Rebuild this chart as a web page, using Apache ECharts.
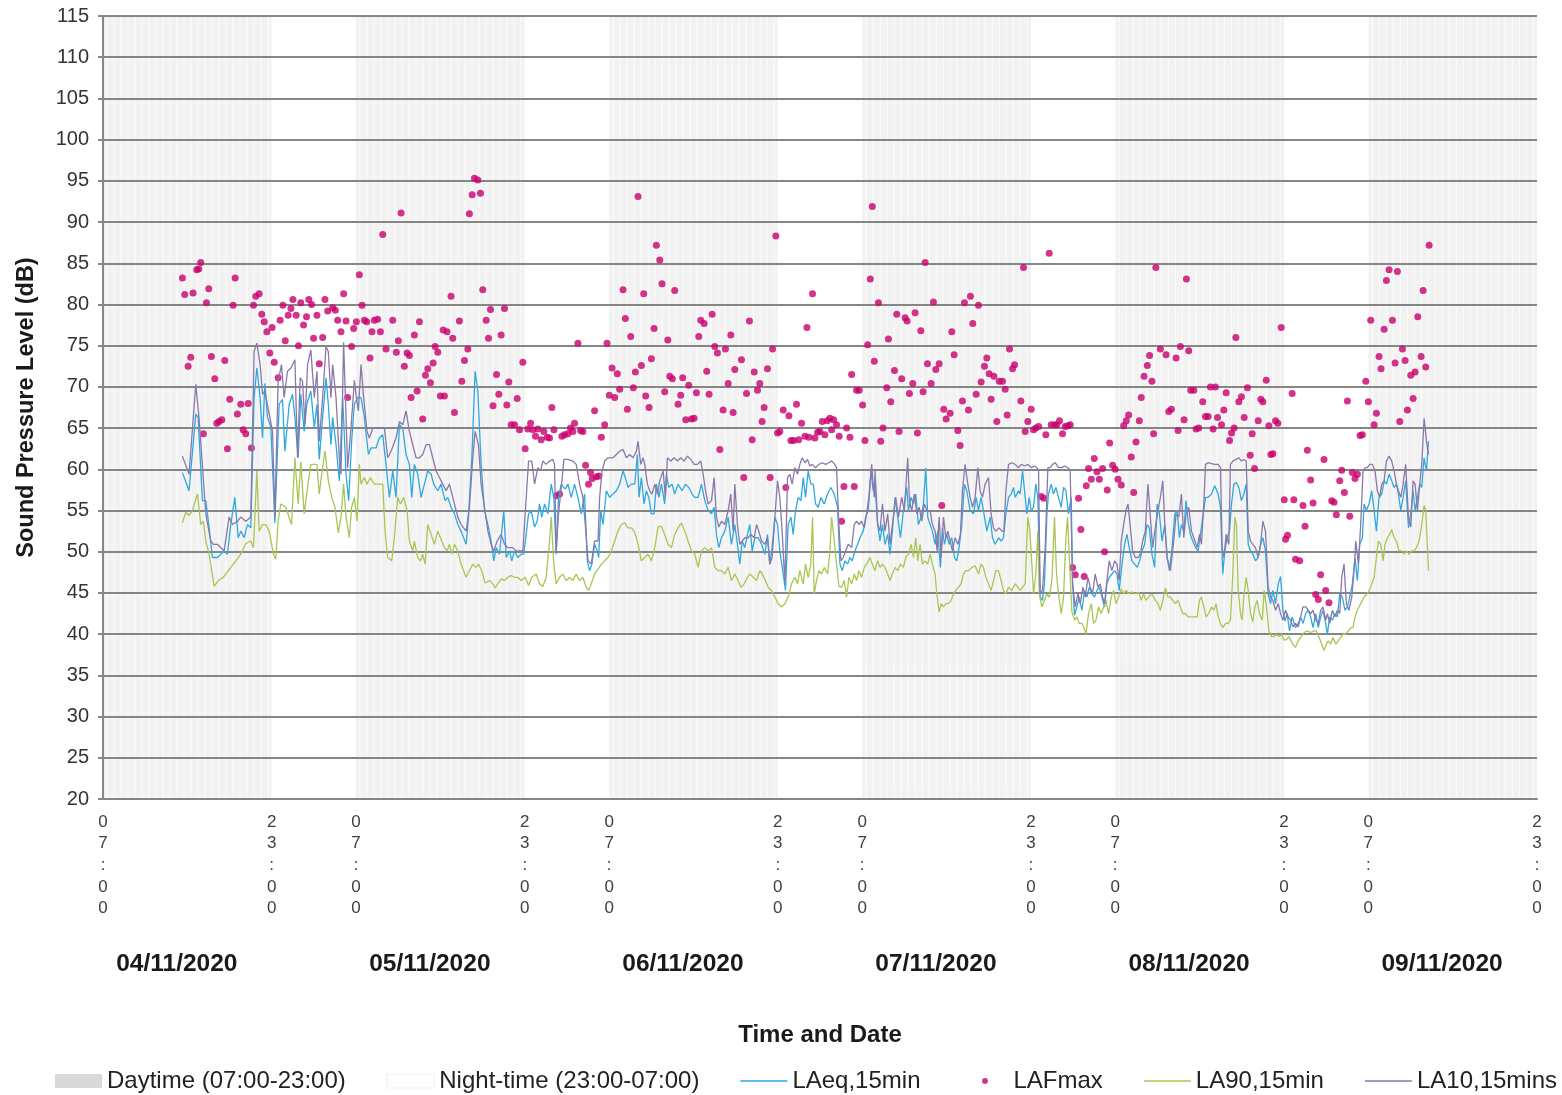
<!DOCTYPE html>
<html><head><meta charset="utf-8">
<script src="https://cdn.jsdelivr.net/npm/echarts@6/dist/echarts.min.js"></script>
<style>html,body{margin:0;padding:0;background:#fff}#c{width:1562px;height:1095px}</style>
</head><body><div id="c"></div>
<script>
// hours counted from 04/11/2020 07:00
const dayStart=[0,24,48,72,96,120];
const dayEnd=[16,40,64,88,112,136];
const nightStart=[16,40,64,88,112];
const nightEnd=[24,48,72,96,120];
const xTickHours=[0,16,24,40,48,64,72,88,96,112,120,136];
const xTickLabels=['07:00','23:00','07:00','23:00','07:00','23:00','07:00','23:00','07:00','23:00','07:00','23:00'];
const dateLabels=['04/11/2020','05/11/2020','06/11/2020','07/11/2020','08/11/2020','09/11/2020'];

const laeq=[[7.53,59.6],[8.16,57.4],[8.8,66.7],[9.02,66.3],[9.43,56.2],[9.75,56.2],[10.06,53.0],[10.38,49.3],[10.85,49.3],[11.49,50.1],[11.8,49.7],[12.12,53.3],[12.5,56.6],[12.82,51.7],[13.07,52.5],[13.39,51.7],[13.7,53.3],[14.02,52.9],[14.33,68.7],[14.59,72.3],[14.9,68.7],[15.13,63.8],[15.35,70.4],[15.6,66.3],[15.92,65.1],[16.3,53.5],[16.71,67.9],[17.02,68.5],[17.25,62.2],[17.66,67.9],[17.97,69.1],[18.2,66.3],[18.51,61.4],[18.76,69.1],[19.08,64.6],[19.33,67.9],[19.71,69.5],
[20.04,65.0],[20.29,67.9],[20.51,61.2],[20.83,66.3],[21.15,71.1],[21.37,67.9],[21.62,63.0],[21.78,66.3],[22.1,63.0],[22.41,58.6],[22.73,68.7],[23.05,59.4],[23.3,56.2],[23.58,63.4],[23.84,67.9],[24.15,68.7],[24.47,68.7],[24.79,66.3],[25.17,61.8],[25.42,62.6],[25.9,62.6],[26.21,63.8],[26.53,64.2],[26.84,60.6],[27.16,56.6],[27.48,59.8],[27.79,56.6],[28.11,65.4],[28.43,65.0],[28.74,61.8],[29.06,60.6],[29.28,56.6],[29.53,60.6],[29.85,59.4],[30.17,56.6],[30.48,58.2],[30.8,59.8],[31.12,59.4],[31.37,58.2],[31.75,57.4],[32.06,58.2],[32.44,56.2],[32.7,56.6],[33.01,55.4],[33.33,54.6],
[33.65,53.3],[33.96,52.5],[34.44,50.9],[34.66,54.2],[34.98,61.4],[35.29,71.9],[35.55,69.5],[35.86,60.6],[36.18,55.0],[36.5,53.3],[36.81,51.3],[37.06,48.9],[37.29,50.5],[37.6,49.7],[38.01,55.0],[38.24,49.3],[38.55,50.1],[38.77,48.9],[39.03,50.1],[39.34,49.3],[39.66,49.7],[39.91,49.7],[40.13,52.1],[40.36,54.6],[40.61,55.0],[40.93,53.0],[41.18,53.7],[41.4,55.8],[41.62,54.2],[41.88,55.8],[42.19,54.6],[42.51,58.2],[42.76,56.6],[42.98,49.7],[43.2,56.6],[43.46,58.2],[43.84,57.6],[44.09,58.2],[44.41,56.6],[44.72,58.2],[45.04,56.6],[45.36,54.6],[45.67,57.0],[45.93,48.9],[46.15,47.7],[46.37,48.5],[46.62,50.9],
[46.88,50.1],[47.01,49.3],[47.2,55.0],[47.42,53.3],[47.74,57.4],[48.05,56.6],[48.37,57.0],[48.69,57.4],[49.0,58.2],[49.32,59.8],[49.54,59.0],[49.79,57.8],[50.11,58.2],[50.43,58.2],[50.68,61.8],[50.84,56.6],[51.06,59.0],[51.31,55.8],[51.53,57.4],[51.76,56.6],[52.01,54.6],[52.26,54.6],[52.48,58.2],[52.71,56.6],[52.96,58.2],[53.27,55.8],[53.43,59.4],[53.66,57.8],[53.97,58.2],[54.22,57.0],[54.54,58.2],[54.92,57.4],[55.24,58.2],[55.55,57.8],[55.87,57.0],[56.12,56.6],[56.44,56.6],[56.76,58.2],[57.07,56.2],[57.39,55.0],[57.71,54.6],[57.96,55.4],[58.18,52.1],[58.4,50.5],[58.66,51.7],[58.97,52.5],[59.29,54.2],[59.6,50.9],[59.92,53.3],
[60.17,50.9],[60.39,48.5],[60.62,51.3],[60.87,50.5],[61.12,52.1],[61.34,53.3],[61.57,50.1],[61.82,51.7],[62.14,51.7],[62.45,50.9],[62.77,49.7],[63.02,52.1],[63.24,48.5],[63.46,50.5],[63.72,54.2],[63.97,53.3],[64.19,50.1],[64.51,47.3],[64.73,45.3],[64.98,53.3],[65.24,54.2],[65.46,52.1],[65.68,55.0],[65.93,56.6],[66.19,56.2],[66.41,59.0],[66.63,56.6],[66.88,59.8],[67.13,58.2],[67.36,58.2],[67.58,55.8],[67.83,55.4],[68.08,56.6],[68.4,55.8],[68.72,57.0],[69.03,57.8],[69.35,57.0],[69.67,55.4],[69.89,48.5],[70.11,47.7],[70.36,48.9],[70.62,48.5],[70.84,49.3],[71.06,48.9],[71.31,50.1],[71.57,50.9],[71.79,51.7],[72.1,52.5],[72.33,54.2],[72.58,55.0],[72.83,59.8],[73.05,57.4],
[73.22,58.2],[73.47,53.3],[73.69,51.3],[73.92,53.3],[74.17,50.9],[74.42,52.1],[74.64,49.7],[74.87,52.5],[75.12,56.6],[75.37,54.2],[75.63,51.7],[75.91,55.0],[76.23,57.8],[76.38,55.0],[76.64,56.6],[76.86,55.8],[77.08,57.0],[77.33,53.3],[77.59,54.2],[77.81,55.8],[78.03,60.2],[78.22,54.2],[78.44,53.3],[78.66,52.5],[78.92,50.9],[79.17,52.5],[79.42,48.1],[79.61,52.9],[79.8,50.9],[80.02,52.1],[80.25,50.9],[80.5,51.7],[80.75,49.3],[80.97,48.9],[81.19,50.5],[81.45,53.3],[81.7,58.2],[81.92,57.4],[82.24,55.0],[82.56,54.6],[82.81,56.6],[83.03,55.0],[83.28,56.6],[83.5,55.0],[83.82,52.5],[84.14,54.2],[84.36,51.7],[84.61,50.9],[84.93,51.7],[85.18,51.3],[85.4,51.7],[85.63,54.6],[85.88,56.6],[86.13,57.0],[86.35,57.8],
[86.51,56.6],[86.83,57.4],[86.98,57.0],[87.21,59.8],[87.4,57.4],[87.62,54.6],[87.84,56.6],[88.03,55.0],[88.25,55.4],[88.47,58.2],[88.66,56.6],[88.88,44.5],[89.1,44.1],[89.29,46.1],[89.52,54.6],[89.67,57.0],[89.93,58.2],[90.15,57.0],[90.37,57.8],[90.62,56.6],[90.88,55.4],[91.1,57.8],[91.32,57.4],[91.57,54.6],[91.83,56.6],[91.95,46.5],[92.14,42.3],[92.36,43.3],[92.59,44.5],[92.84,42.9],[93.09,45.3],[93.31,44.5],[93.54,45.7],[93.79,44.9],[94.04,44.5],[94.26,45.3],[94.48,45.7],[94.74,44.5],[94.99,43.3],[95.21,46.1],[95.43,46.9],[95.69,47.3],[95.94,47.7],[96.16,47.3],[96.38,45.3],[96.64,48.5],[96.89,50.9],[97.11,52.1],[97.33,50.5],[97.59,48.9],[97.84,48.5],[98.09,48.1],[98.31,48.9],[98.54,50.1],[98.79,50.9],[99.01,53.3],[99.23,52.9],[99.48,49.7],[99.74,48.1],
[99.97,55.8],[100.19,54.6],[100.44,51.3],[100.7,53.3],[100.92,49.3],[101.14,47.7],[101.39,50.5],[101.65,54.6],[101.87,55.0],[102.09,51.7],[102.28,53.3],[102.5,52.5],[102.72,56.2],[102.91,53.7],[103.13,52.1],[103.35,51.3],[103.61,50.5],[103.86,50.1],[104.08,52.1],[104.3,54.2],[104.56,56.6],[104.81,56.6],[105.13,57.0],[105.44,58.0],[105.76,57.0],[105.98,55.4],[106.2,47.3],[106.39,50.1],[106.61,51.7],[106.84,52.5],[107.03,55.8],[107.25,58.2],[107.47,58.4],[107.72,57.8],[107.97,56.2],[108.2,57.0],[108.42,58.2],[108.61,50.9],[108.83,50.1],[109.05,49.7],[109.3,48.9],[109.56,49.3],[109.78,50.9],[110.0,51.7],[110.25,50.1],[110.5,44.9],[110.73,43.7],[110.95,45.3],[111.2,43.7],[111.46,46.1],[111.68,47.0],[111.9,42.9],[112.09,41.6],[112.31,42.5],[112.53,40.4],[112.78,42.1],[113.1,40.8],
[113.36,41.3],[113.58,42.1],[113.81,41.3],[114.06,42.5],[114.31,42.9],[114.53,42.1],[114.76,40.8],[115.01,42.5],[115.26,40.8],[115.48,42.1],[115.7,42.9],[115.96,41.3],[116.12,40.0],[116.34,42.1],[116.59,41.7],[116.84,42.5],[117.07,42.1],[117.29,44.9],[117.54,44.5],[117.79,42.9],[118.02,43.3],[118.24,44.5],[118.49,46.1],[118.74,49.3],[118.96,46.5],[119.19,50.9],[119.44,51.7],[119.6,55.8],[119.82,55.0],[120.07,55.8],[120.33,57.4],[120.55,55.0],[120.77,52.5],[121.02,56.6],[121.27,57.0],[121.5,58.6],[121.72,58.2],[121.97,59.4],[122.22,58.6],[122.45,57.8],[122.67,58.2],[122.86,57.0],[123.08,55.0],[123.3,56.6],[123.55,58.6],[123.81,52.9],[124.03,54.6],[124.25,57.4],[124.44,55.0],[124.66,56.6],[124.88,58.2],[125.07,57.8],[125.29,61.4],[125.52,59.8],[125.71,63.4]];

const la10=[[7.53,61.6],[8.16,59.4],[8.8,70.3],[9.11,66.2],[9.75,54.6],[10.22,51.3],[10.47,50.9],[10.85,50.9],[11.49,50.1],[11.96,54.2],[12.28,53.3],[12.75,53.7],[13.07,54.2],[13.54,53.7],[14.02,54.2],[14.33,74.3],[14.59,75.3],[14.9,72.7],[15.13,69.1],[15.35,69.5],[15.76,66.7],[16.08,64.6],[16.3,54.2],[16.61,70.7],[16.93,72.7],[17.18,68.7],[17.5,71.9],[17.82,72.3],[18.2,73.3],[18.45,61.4],[18.7,71.1],[18.92,70.7],[19.15,65.5],[19.4,72.7],[19.71,74.5],
[20.04,68.7],[20.29,71.9],[20.51,63.4],[20.83,68.7],[21.15,74.9],[21.37,74.3],[21.62,68.7],[21.78,72.7],[22.1,68.7],[22.41,61.4],[22.57,59.4],[22.82,75.4],[23.05,66.3],[23.2,60.2],[23.52,65.0],[23.84,70.8],[23.99,69.1],[24.22,67.1],[24.47,72.7],[24.72,68.7],[25.04,64.6],[25.26,63.8],[25.58,65.0],[26.05,65.0],[26.37,65.0],[26.69,65.0],[27.0,61.4],[27.32,62.2],[27.79,63.8],[28.11,65.8],[28.43,65.4],[28.74,67.1],[29.06,64.6],[29.37,63.0],[29.69,61.4],[30.0,61.4],[30.32,61.8],[30.64,63.0],[30.96,63.0],[31.27,61.4],[31.59,59.8],[31.91,59.0],[32.22,58.2],[32.54,57.4],[32.86,58.2],[33.17,56.6],
[33.33,56.6],[33.65,54.2],[33.96,53.3],[34.44,52.5],[34.75,55.4],[35.07,61.4],[35.29,64.6],[35.61,63.0],[35.86,58.2],[36.18,55.4],[36.5,52.5],[36.81,50.9],[37.06,50.1],[37.38,51.3],[37.76,52.1],[38.08,50.9],[38.39,50.5],[38.87,50.5],[39.18,50.1],[39.5,50.1],[39.82,50.1],[40.04,54.6],[40.36,61.0],[40.67,61.0],[40.93,58.2],[41.24,60.2],[41.49,59.8],[41.72,61.0],[42.03,60.6],[42.35,61.0],[42.67,61.2],[42.82,60.6],[42.98,50.1],[43.2,54.6],[43.46,57.8],[43.71,61.2],[44.09,61.2],[44.56,61.0],[44.88,60.6],[45.2,58.2],[45.51,56.6],[45.74,53.3],[46.0,48.9],[46.31,48.5],[46.62,51.3],
[46.95,51.3],[47.1,56.6],[47.33,59.8],[47.58,61.0],[47.9,61.4],[48.37,61.4],[48.69,61.8],[49.0,62.2],[49.32,62.4],[49.64,61.4],[49.95,61.8],[50.27,61.4],[50.59,62.2],[50.74,63.4],[51.0,60.6],[51.22,61.4],[51.38,60.6],[51.63,58.2],[51.85,57.4],[52.07,57.0],[52.33,58.2],[52.58,57.0],[52.8,58.6],[53.12,59.8],[53.34,56.6],[53.53,61.4],[53.85,61.0],[54.16,61.4],[54.48,61.0],[54.79,61.4],[55.11,61.0],[55.43,61.6],[55.74,61.2],[56.06,60.6],[56.38,60.6],[56.69,61.0],[56.92,59.4],[57.14,57.4],[57.39,55.8],[57.71,56.2],[57.96,59.0],[58.18,54.2],[58.4,53.0],[58.66,53.7],[58.97,53.3],[59.29,55.0],[59.54,57.0],[59.76,52.5],
[59.92,58.2],[60.17,53.3],[60.39,50.9],[60.62,51.3],[60.87,51.7],[61.19,51.7],[61.44,52.1],[61.76,51.7],[61.98,53.3],[62.2,52.5],[62.45,51.3],[62.77,50.9],[63.02,51.7],[63.24,48.5],[63.46,49.3],[63.72,54.2],[63.97,58.6],[64.19,56.6],[64.41,52.5],[64.67,46.1],[64.92,59.0],[65.14,59.4],[65.36,58.2],[65.62,60.2],[65.87,59.4],[66.09,60.6],[66.31,61.4],[66.57,60.8],[66.82,61.2],[67.04,60.4],[67.26,60.6],[67.58,60.2],[67.89,60.6],[68.21,60.8],[68.53,60.6],[68.84,60.8],[69.1,61.0],[69.41,60.6],[69.57,60.2],[69.79,53.3],[69.98,48.9],[70.2,49.3],[70.43,50.1],[70.68,50.9],[71.0,50.5],[71.25,53.3],[71.47,53.7],[71.69,53.3],[71.94,53.7],[72.2,52.9],[72.42,54.6],[72.64,56.6],[72.9,60.6],[73.15,56.6],
[73.22,59.8],[73.47,53.3],[73.69,52.5],[73.92,55.8],[74.17,52.5],[74.42,54.6],[74.64,50.9],[74.87,53.3],[75.18,56.6],[75.44,54.2],[75.75,56.6],[76.0,55.0],[76.32,61.4],[76.48,56.2],[76.7,55.0],[76.95,57.0],[77.18,54.6],[77.4,55.4],[77.65,53.7],[77.9,55.8],[78.16,55.0],[78.44,55.0],[78.66,53.3],[78.92,52.5],[79.11,50.1],[79.3,54.2],[79.49,49.3],[79.71,54.2],[79.93,51.7],[80.12,52.5],[80.34,51.3],[80.56,50.1],[80.81,51.7],[81.07,50.9],[81.32,52.1],[81.51,57.4],[81.76,60.6],[82.02,58.2],[82.24,56.6],[82.46,55.4],[82.71,56.6],[82.97,60.2],[83.19,57.4],[83.41,56.6],[83.66,58.2],[83.98,59.0],[84.23,54.6],[84.45,52.9],[84.68,52.5],[84.99,52.9],[85.25,52.5],[85.44,52.5],[85.63,57.4],[85.88,60.6],[86.2,60.8],[86.51,60.6],
[86.83,60.2],[87.08,60.6],[87.4,60.4],[87.71,60.6],[88.03,60.2],[88.35,60.4],[88.57,60.2],[88.73,59.8],[88.88,44.9],[89.1,45.3],[89.36,50.5],[89.61,60.2],[89.83,60.2],[90.05,60.6],[90.31,60.8],[90.62,60.2],[90.94,60.2],[91.19,60.4],[91.51,60.2],[91.73,59.8],[91.95,46.1],[92.21,43.3],[92.46,44.9],[92.68,43.7],[92.93,45.7],[93.16,44.5],[93.41,46.9],[93.63,45.7],[93.85,44.9],[94.1,47.3],[94.36,45.7],[94.58,46.1],[94.8,44.5],[94.99,43.7],[95.21,46.5],[95.43,48.9],[95.69,47.7],[95.94,48.9],[96.16,48.5],[96.38,46.5],[96.57,51.3],[96.8,53.3],[97.02,55.0],[97.21,55.8],[97.43,53.0],[97.65,50.1],[97.9,49.3],[98.16,49.3],[98.38,49.7],[98.6,51.3],[98.85,52.5],[99.1,58.2],[99.33,54.2],[99.55,50.5],[99.81,53.0],
[100.06,55.0],[100.28,56.6],[100.51,58.6],[100.7,53.3],[100.92,49.3],[101.23,47.7],[101.55,51.3],[101.77,54.6],[102.03,54.2],[102.28,57.0],[102.5,51.7],[102.72,54.6],[102.97,55.4],[103.23,52.5],[103.45,51.7],[103.77,50.5],[103.99,52.1],[104.18,50.9],[104.4,55.8],[104.56,60.6],[104.81,60.8],[105.13,60.7],[105.44,60.6],[105.76,60.6],[105.98,60.2],[106.14,50.5],[106.3,49.3],[106.52,52.1],[106.77,50.9],[106.93,60.6],[107.15,61.0],[107.47,61.2],[107.72,61.4],[107.97,61.0],[108.2,61.2],[108.42,61.0],[108.61,52.5],[108.83,51.3],[109.05,50.9],[109.3,50.5],[109.56,49.3],[109.78,50.9],[110.0,53.7],[110.25,52.5],[110.5,45.7],[110.73,44.5],[110.95,44.1],[111.2,42.9],[111.46,43.7],[111.68,42.5],[111.9,41.7],[112.15,42.9],[112.4,42.1],[112.63,41.7],[112.85,40.9],[113.1,41.3],
[113.36,40.9],[113.58,42.1],[113.81,43.3],[114.06,43.3],[114.31,42.9],[114.53,42.5],[114.76,42.9],[115.01,41.7],[115.26,41.3],[115.48,42.9],[115.7,43.3],[115.96,41.7],[116.12,42.5],[116.34,41.3],[116.59,42.9],[116.84,42.1],[117.07,42.9],[117.29,42.5],[117.48,46.9],[117.7,48.5],[117.92,43.7],[118.17,42.9],[118.43,44.5],[118.65,47.7],[118.81,51.3],[119.06,48.5],[119.28,53.3],[119.5,59.8],[119.69,60.2],[119.91,60.2],[120.14,60.6],[120.39,60.6],[120.64,59.8],[120.86,57.4],[121.08,56.6],[121.27,58.2],[121.5,58.6],[121.72,61.0],[121.97,61.6],[122.22,61.0],[122.45,59.8],[122.67,58.2],[122.86,57.4],[123.08,56.6],[123.3,58.2],[123.55,60.6],[123.81,54.2],[124.03,53.0],[124.25,58.6],[124.44,58.2],[124.66,55.0],[124.88,58.2],[125.07,60.6],[125.29,66.2],[125.52,63.4],[125.71,61.8]];

const la90=[[7.53,53.5],[7.85,54.8],[8.16,54.4],[8.48,55.0],[8.96,57.0],[9.27,53.3],[9.52,53.7],[9.75,51.3],[10.06,49.7],[10.54,45.8],[11.01,46.6],[11.33,46.8],[11.65,47.3],[12.12,48.1],[12.6,48.9],[13.07,49.7],[13.54,51.0],[14.02,51.3],[14.27,50.5],[14.59,59.8],[14.81,52.5],[15.13,53.3],[15.44,53.3],[15.76,52.5],[16.17,49.7],[16.39,49.1],[16.61,53.8],[16.87,55.8],[17.34,55.4],[17.88,53.3],[18.2,61.4],[18.51,55.8],[18.76,60.9],[19.08,54.6],[19.4,57.8],[19.71,60.6],[20.03,60.6],
[20.29,60.6],[20.51,57.0],[20.74,59.4],[21.05,62.2],[21.37,58.6],[21.69,56.6],[22.0,55.4],[22.32,52.3],[22.57,54.2],[22.82,58.2],[23.05,54.2],[23.36,51.7],[23.58,55.4],[23.84,56.6],[24.09,53.7],[24.31,60.6],[24.47,58.2],[24.79,59.0],[25.04,58.2],[25.36,59.0],[25.74,58.2],[26.21,58.2],[26.53,58.2],[26.75,52.5],[27.0,49.3],[27.38,48.9],[27.63,51.7],[27.95,56.6],[28.2,55.8],[28.52,56.6],[28.84,55.0],[29.06,51.3],[29.38,50.1],[29.53,51.3],[29.85,49.3],[30.1,48.9],[30.32,49.7],[30.55,48.5],[30.8,53.3],[31.12,52.1],[31.43,50.9],[31.75,52.5],[32.0,51.7],[32.38,50.5],[32.63,50.1],[32.86,50.9],[33.08,49.7],[33.33,50.9],
[33.65,50.1],[33.96,48.5],[34.44,46.9],[34.75,47.7],[35.07,48.5],[35.39,48.1],[35.61,48.5],[35.92,47.7],[36.24,46.2],[36.65,46.5],[36.97,46.1],[37.19,45.6],[37.44,46.1],[37.76,46.7],[38.08,46.5],[38.39,46.9],[38.71,47.1],[39.03,46.9],[39.34,46.9],[39.66,46.5],[40.04,46.9],[40.36,45.9],[40.67,46.9],[41.08,47.3],[41.4,46.1],[41.72,45.8],[42.03,46.9],[42.35,51.3],[42.51,54.2],[42.76,48.5],[42.98,46.1],[43.3,46.9],[43.62,47.3],[43.93,46.5],[44.25,46.9],[44.56,46.5],[44.88,47.3],[45.2,46.5],[45.51,46.9],[45.83,45.7],[46.05,45.3],[46.3,46.1],[46.62,47.3],
[46.95,47.9],[47.26,48.5],[47.58,48.9],[47.9,49.3],[48.21,50.1],[48.53,51.3],[48.84,52.5],[49.16,53.3],[49.48,53.5],[49.79,52.9],[50.11,52.9],[50.36,52.5],[50.59,51.7],[50.81,50.5],[51.06,48.9],[51.38,49.3],[51.69,49.7],[52.01,48.9],[52.33,50.5],[52.64,53.0],[52.96,53.1],[53.27,52.1],[53.59,50.9],[53.91,50.5],[54.22,52.1],[54.54,52.9],[54.86,53.5],[55.17,52.5],[55.49,51.3],[55.81,50.1],[56.12,49.7],[56.44,48.1],[56.76,50.1],[57.07,50.5],[57.39,50.1],[57.71,50.5],[58.02,48.1],[58.34,47.7],[58.66,47.7],[58.97,47.3],[59.29,48.1],[59.6,46.5],[59.92,47.3],
[60.24,46.5],[60.49,45.7],[60.81,46.1],[61.12,46.9],[61.34,47.3],[61.66,46.9],[61.98,46.5],[62.29,47.7],[62.51,47.3],[62.83,46.5],[63.08,45.7],[63.4,45.3],[63.72,44.5],[64.03,43.7],[64.35,43.3],[64.67,43.7],[64.98,44.5],[65.3,46.1],[65.62,46.9],[65.87,46.1],[66.09,47.7],[66.41,46.1],[66.63,48.5],[66.88,46.9],[67.13,48.5],[67.29,54.2],[67.45,44.9],[67.67,46.5],[67.89,47.7],[68.15,47.3],[68.4,48.1],[68.72,47.3],[68.94,50.1],[69.1,54.2],[69.32,51.7],[69.57,48.5],[69.79,45.8],[70.05,45.7],[70.3,46.5],[70.52,44.5],[70.74,46.9],[71.0,46.1],[71.25,47.3],[71.47,46.5],[71.69,47.7],[71.94,46.9],[72.2,48.1],[72.42,48.5],[72.74,49.3],[72.96,48.5],[73.21,47.7],
[73.47,48.9],[73.69,48.1],[73.92,48.5],[74.17,48.1],[74.42,47.3],[74.64,46.5],[74.87,47.3],[75.12,48.1],[75.37,47.7],[75.63,48.5],[75.91,48.1],[76.13,49.3],[76.38,49.7],[76.64,50.9],[76.86,49.3],[77.08,51.7],[77.27,48.9],[77.49,50.9],[77.71,48.5],[77.97,48.9],[78.22,48.5],[78.44,49.7],[78.66,48.5],[78.92,47.3],[79.07,44.9],[79.3,42.7],[79.49,43.7],[79.71,43.3],[79.93,43.7],[80.18,43.7],[80.44,44.1],[80.66,44.9],[80.88,45.3],[81.13,45.7],[81.38,46.1],[81.61,47.3],[81.83,47.7],[82.08,47.7],[82.4,48.1],[82.71,48.3],[83.03,47.3],[83.28,48.5],[83.5,48.1],[83.73,46.9],[83.98,46.1],[84.23,45.3],[84.45,46.5],[84.68,47.7],[84.93,47.7],[85.18,46.5],[85.4,45.3],[85.62,44.9],[85.88,45.7],[86.2,45.3],[86.51,46.1],
[86.76,45.7],[86.98,45.3],[87.21,45.7],[87.46,46.1],[87.71,54.2],[87.9,52.5],[88.09,48.5],[88.25,44.9],[88.47,47.3],[88.66,52.5],[88.79,44.9],[89.04,43.3],[89.29,44.1],[89.52,44.9],[89.74,44.5],[89.99,46.5],[90.24,54.2],[90.43,47.3],[90.62,44.9],[90.88,42.5],[91.1,44.5],[91.32,51.7],[91.48,54.2],[91.67,48.5],[91.89,42.7],[92.14,41.7],[92.36,42.1],[92.59,41.3],[92.84,41.3],[93.03,40.8],[93.22,40.0],[93.47,42.5],[93.73,43.7],[93.95,41.3],[94.17,41.7],[94.42,43.3],[94.67,42.5],[94.9,43.3],[95.12,44.1],[95.37,42.5],[95.62,44.5],[95.85,45.3],[96.07,43.7],[96.32,44.5],[96.57,45.5],[96.8,44.9],[97.02,45.3],[97.27,44.9],[97.59,45.1],[97.9,44.9],[98.22,45.1],[98.47,44.1],[98.69,44.9],[98.91,44.1],[99.17,44.5],[99.48,44.9],[99.8,44.1],
[100.06,43.7],[100.28,42.9],[100.51,44.1],[100.76,45.6],[101.01,44.5],[101.23,44.5],[101.46,44.1],[101.71,43.7],[101.96,44.1],[102.18,43.3],[102.4,42.5],[102.66,42.5],[102.91,42.1],[103.23,42.1],[103.54,42.1],[103.77,42.1],[103.99,44.1],[104.18,44.5],[104.4,43.3],[104.62,42.1],[104.87,42.5],[105.13,43.3],[105.35,42.9],[105.57,43.7],[105.76,42.1],[105.98,41.3],[106.2,40.8],[106.46,41.3],[106.71,41.3],[106.93,41.7],[107.15,47.3],[107.34,54.2],[107.5,53.3],[107.66,45.3],[107.88,42.5],[108.04,41.7],[108.2,44.5],[108.42,46.9],[108.61,45.3],[108.83,42.5],[109.05,41.5],[109.24,43.3],[109.46,44.1],[109.68,42.5],[109.94,41.7],[110.13,45.3],[110.35,43.3],[110.57,40.4],[110.82,39.7],[111.04,39.7],[111.27,40.0],[111.52,39.7],[111.77,40.0],[112.0,39.3],[112.22,39.3],[112.47,39.7],[112.78,38.9],[113.1,38.4],
[113.36,39.2],[113.58,39.6],[113.9,40.2],[114.22,40.4],[114.53,40.2],[114.85,40.4],[115.07,40.4],[115.33,39.6],[115.58,38.8],[115.8,38.0],[116.02,38.8],[116.21,39.2],[116.43,38.8],[116.65,39.6],[116.91,38.8],[117.16,39.2],[117.38,39.6],[117.6,40.0],[117.86,40.0],[118.11,40.4],[118.33,40.8],[118.55,40.8],[118.74,42.1],[118.96,42.9],[119.28,43.7],[119.6,44.5],[119.91,44.9],[120.23,45.7],[120.55,46.9],[120.77,49.3],[120.96,51.3],[121.18,50.9],[121.4,48.9],[121.59,50.9],[121.81,51.7],[122.03,52.1],[122.22,52.7],[122.45,51.7],[122.67,51.3],[122.92,50.1],[123.17,50.1],[123.39,49.7],[123.62,50.1],[123.87,49.7],[124.12,50.1],[124.34,50.1],[124.57,50.5],[124.82,51.3],[125.07,53.3],[125.29,55.6],[125.45,55.0],[125.71,47.7]];

const lafmax=[[7.53,83.2],[7.75,81.2],[8.07,72.5],[8.32,73.6],[8.54,81.4],[8.89,84.2],[9.08,84.3],[9.27,85.1],[9.52,64.3],[9.81,80.2],[10.03,81.9],[10.28,73.7],[10.6,71.0],[10.79,65.6],[11.01,65.8],[11.27,66.0],[11.55,73.2],[11.8,62.5],[12.02,68.5],[12.34,79.9],[12.53,83.2],[12.75,66.7],[13.07,67.9],[13.29,64.8],[13.54,64.3],[13.77,68.0],[14.08,62.6],[14.27,79.9],[14.49,81.0],[14.81,81.3],[15.06,78.8],[15.29,77.9],[15.54,76.7],[15.82,74.1],[16.04,77.2],[16.24,73.0],[16.61,71.1],[16.8,78.1],[17.06,79.9],[17.28,75.6],[17.56,78.7],[17.82,79.5],[18.01,80.6],[18.32,78.7],[18.54,75.0],[18.76,80.2],[19.02,77.5],[19.3,78.5],[19.52,80.6],[19.78,80.0],[19.97,75.9],
[20.29,78.7],[20.51,72.8],[20.83,76.0],[21.05,80.6],[21.31,79.2],[21.78,79.6],[22.03,79.3],[22.26,78.1],[22.57,76.7],[22.82,81.3],[23.05,78.0],[23.2,68.7],[23.58,74.9],[23.77,77.1],[24.03,77.9],[24.31,83.6],[24.57,79.9],[24.79,78.1],[25.01,77.9],[25.32,73.5],[25.51,76.7],[25.74,78.1],[26.05,78.2],[26.31,76.7],[26.53,88.5],[26.84,74.6],[27.48,78.1],[27.82,74.2],[28.01,75.6],[28.27,91.1],[28.58,72.5],[28.84,74.1],[29.06,73.8],[29.22,68.7],[29.53,76.3],[29.79,69.5],[30.01,77.9],[30.32,66.1],[30.58,71.4],[30.8,72.2],[31.05,70.5],[31.31,72.9],[31.5,74.9],[31.75,74.2],[32.0,68.9],[32.26,76.9],[32.38,68.9],[32.63,76.7],[33.01,81.0],[33.17,75.9],[33.33,66.9],
[33.8,78.0],[34.03,70.7],[34.28,73.2],[34.6,74.6],[34.75,91.0],[35.01,93.3],[35.23,95.3],[35.55,95.1],[35.8,93.5],[36.02,81.8],[36.34,78.1],[36.56,75.9],[36.75,79.4],[36.99,67.7],[37.32,71.5],[37.54,69.1],[37.76,76.3],[38.08,79.5],[38.3,67.8],[38.49,70.6],[38.71,65.4],[39.03,65.4],[39.28,68.6],[39.5,64.8],[39.82,73.0],[40.04,62.5],[40.29,64.9],[40.55,65.6],[40.77,64.8],[41.02,64.0],[41.24,64.9],[41.56,63.6],[41.81,64.6],[42.13,63.9],[42.35,63.8],[42.57,67.5],[42.76,64.8],[42.98,56.8],[43.3,57.0],[43.52,64.0],[43.77,64.2],[44.09,64.3],[44.34,65.0],[44.56,64.6],[44.72,65.6],[45.04,75.3],[45.29,64.7],[45.51,64.6],[45.77,60.5],[46.05,58.2],[46.24,59.6],[46.4,58.9],[46.62,67.1],
[46.79,59.1],[47.04,59.2],[47.26,63.9],[47.58,65.4],[47.8,75.3],[48.02,69.0],[48.28,72.3],[48.53,68.7],[48.78,71.6],[49.0,69.7],[49.32,81.8],[49.54,78.3],[49.73,67.3],[50.05,76.1],[50.3,69.9],[50.49,71.8],[50.74,93.1],[51.06,72.6],[51.28,81.3],[51.47,68.9],[51.79,67.5],[52.01,73.4],[52.26,77.1],[52.48,87.2],[52.8,85.4],[53.02,82.5],[53.27,69.4],[53.56,75.7],[53.75,71.3],[54.0,71.0],[54.22,81.7],[54.54,67.9],[54.79,69.0],[54.98,71.1],[55.27,66.0],[55.55,70.2],[55.81,66.1],[56.06,66.2],[56.28,69.3],[56.5,76.1],[56.69,78.1],[57.01,77.7],[57.26,71.9],[57.48,69.1],[57.77,78.8],[58.02,74.9],[58.27,74.1],[58.5,62.4],[58.81,67.2],[59.03,74.6],[59.29,70.4],[59.54,76.3],[59.76,66.9],[59.92,72.1],
[60.55,73.3],[60.77,59.0],[61.03,69.2],[61.31,78.0],[61.57,63.6],[61.76,71.8],[62.07,69.6],[62.29,70.4],[62.51,65.8],[62.7,67.5],[63.02,72.2],[63.27,59.0],[63.5,74.6],[63.81,88.3],[63.97,64.4],[64.19,64.6],[64.51,67.2],[64.76,57.8],[65.05,66.5],[65.24,63.5],[65.49,63.5],[65.77,67.9],[65.98,63.6],[66.25,65.6],[66.57,64.0],[66.76,77.2],[66.95,63.9],[67.29,81.3],[67.51,63.8],[67.77,64.5],[67.99,64.6],[68.21,65.8],[68.46,64.2],[68.69,65.9],[68.94,66.2],[69.1,64.8],[69.29,66.0],[69.57,65.4],[69.82,64.0],[70.05,53.7],[70.27,57.9],[70.52,65.0],[70.84,63.9],[71.0,71.5],[71.25,57.9],[71.47,69.6],[71.72,69.6],[72.04,67.8],[72.26,63.5],[72.52,75.1],[72.77,83.1],[72.96,91.9],[73.15,73.1],
[73.54,80.2],[73.76,63.4],[73.98,65.0],[74.33,69.9],[74.49,75.8],[74.71,68.2],[75.06,72.0],[75.28,78.8],[75.5,64.6],[75.75,71.0],[76.07,78.4],[76.26,78.0],[76.48,69.2],[76.8,70.4],[77.02,79.0],[77.24,64.4],[77.56,76.8],[77.78,69.4],[77.97,85.1],[78.19,72.8],[78.54,70.4],[78.76,80.3],[78.98,72.1],[79.3,72.8],[79.55,55.6],[79.74,67.3],[79.96,66.1],[80.34,66.8],[80.5,76.7],[80.72,73.9],[81.07,64.7],[81.29,62.9],[81.51,68.3],[81.7,80.2],[82.08,67.2],[82.27,81.0],[82.49,77.7],[82.81,69.1],[83.03,79.9],[83.28,70.6],[83.6,72.5],[83.82,73.5],[84.04,71.6],[84.23,68.5],[84.49,71.3],[84.77,65.8],[85.0,70.7],[85.31,70.7],[85.56,69.7],[85.75,66.6],[85.97,74.6],[86.26,72.2],[86.45,72.7],
[87.05,68.3],[87.3,84.5],[87.46,64.6],[87.71,65.8],[88.03,67.3],[88.25,64.8],[88.47,65.0],[88.73,65.2],[88.98,56.7],[89.23,56.5],[89.42,64.2],[89.74,86.2],[89.93,65.4],[90.24,65.4],[90.47,65.4],[90.72,65.9],[91.0,64.3],[91.26,65.2],[91.51,65.3],[91.73,65.4],[91.95,48.1],[92.21,47.2],[92.52,56.5],[92.74,52.7],[93.06,47.0],[93.25,58.0],[93.47,60.1],[93.73,58.8],[94.01,61.3],[94.26,59.7],[94.49,58.8],[94.8,60.1],[94.99,50.0],[95.24,57.5],[95.47,63.2],[95.75,60.5],[96.0,60.0],[96.26,58.8],[96.57,58.1],[96.8,65.3],[97.05,65.9],[97.27,66.6],[97.52,61.5],[97.75,57.2],[97.97,63.3],[98.28,65.9],[98.47,68.7],[98.73,71.3],[99.04,72.6],[99.26,73.8],[99.48,70.7],[99.64,64.3],[99.85,84.5],
[100.28,74.6],[100.82,73.9],[101.08,67.0],[101.33,67.3],[101.77,73.5],[101.96,64.7],[102.18,74.9],[102.53,66.0],[102.75,83.1],[102.97,74.4],[103.16,69.6],[103.45,69.6],[103.67,64.9],[103.92,65.0],[104.3,68.2],[104.56,66.4],[104.81,66.4],[105.03,70.0],[105.28,64.9],[105.5,70.0],[105.7,66.3],[106.08,65.4],[106.3,67.2],[106.52,69.3],[106.84,63.5],[107.03,64.4],[107.28,65.0],[107.44,76.0],[107.72,68.2],[107.97,68.8],[108.23,66.3],[108.54,69.9],[108.8,61.7],[108.99,64.3],[109.21,60.1],[109.56,65.9],[109.81,68.5],[110.0,68.2],[110.32,70.8],[110.57,65.3],[110.76,61.8],[110.95,61.9],[111.2,65.9],[111.42,65.6],[111.74,77.2],[112.03,56.3],[112.15,51.5],[112.34,52.0],[112.78,69.2],[112.94,56.3],[113.1,49.1],
[113.49,48.9],[113.81,55.6],[114.0,53.1],[114.22,62.3],[114.53,58.7],[114.76,55.9],[115.01,44.8],[115.26,44.2],[115.48,47.2],[115.8,61.2],[115.96,45.3],[116.27,43.8],[116.53,56.2],[116.75,56.0],[116.97,54.5],[117.29,58.6],[117.48,59.9],[117.73,57.2],[118.02,68.3],[118.24,54.3],[118.49,59.6],[118.74,58.9],[118.96,59.4],[119.22,64.1],[119.44,64.2],[119.76,70.7],[120.01,68.2],[120.23,78.1],[120.55,65.4],[120.77,66.8],[121.02,73.7],[121.21,72.2],[121.5,77.0],[121.72,82.9],[121.97,84.2],[122.29,78.1],[122.54,72.9],[122.76,84.0],[122.98,65.8],[123.24,74.6],[123.49,73.2],[123.71,67.2],[124.03,71.4],[124.25,68.6],[124.44,71.8],[124.69,78.5],[125.01,73.7],[125.2,81.7],[125.45,72.4],[125.77,87.2]];

const FONT='"Liberation Sans", Arial, sans-serif';
const GRIDC='#868686';
const LINE_ICON='path://M0,0L47,0L47,1.6L0,1.6Z';
const DOT_ICON='path://M0,0M48,14M21,7a3,3 0 1,0 6,0a3,3 0 1,0 -6,0Z';

function bandRenderer(fill, stripes){
  return function(params, api){
    const p0=api.coord([api.value(0),115]);
    const p1=api.coord([api.value(1),20]);
    const x0=p0[0],x1=p1[0],y0=p0[1],y1=p1[1];
    const children=[{type:'rect',shape:{x:x0,y:y0,width:x1-x0,height:y1-y0},style:{fill:fill}}];
    if(stripes){
      for(let x=x0+4;x<x1-2;x+=7){
        children.push({type:'line',shape:{x1:x,y1:y0,x2:x,y2:y1},style:{stroke:'rgba(255,255,255,0.8)',lineWidth:1}});
      }
    }
    return {type:'group',children:children};
  };
}

const chart=echarts.init(document.getElementById('c'),null,{renderer:'canvas'});
chart.setOption({
  animation:false,
  backgroundColor:'#ffffff',
  textStyle:{fontFamily:FONT},
  grid:{left:103,right:25,top:16,bottom:296,containLabel:false},
  legend:{
    left:55, top:1069, width:1550, padding:0, itemWidth:47, itemHeight:14, itemGap:41,
    textStyle:{fontSize:24,color:'#222',fontFamily:FONT},
    data:[
      {name:'Daytime (07:00-23:00)',icon:'rect',itemStyle:{color:'#d9d9d9'}},
      {name:'Night-time (23:00-07:00)',icon:'rect',itemStyle:{color:'#ffffff',borderColor:'#f0f0f0',borderWidth:1}},
      {name:'LAeq,15min',icon:LINE_ICON},
      {name:'LAFmax',icon:DOT_ICON},
      {name:'LA90,15min',icon:LINE_ICON},
      {name:'LA10,15mins',icon:LINE_ICON}
    ]
  },
  xAxis:[{
    type:'value', min:0, max:136, z:1,
    axisLine:{show:true,lineStyle:{color:GRIDC,width:2}},
    axisTick:{show:false},
    splitLine:{show:false},
    axisLabel:{
      customValues:xTickHours, showMinLabel:true, showMaxLabel:true,
      fontSize:17, lineHeight:21.7, color:'#404040', margin:12, fontFamily:FONT,
      formatter:function(v){const i=xTickHours.indexOf(v);return (i>=0?xTickLabels[i]:'').split('').join('\n');}
    },
    name:'Time and Date', nameLocation:'middle', nameGap:224,
    nameTextStyle:{fontSize:24,fontWeight:'bold',color:'#1a1a1a',fontFamily:FONT}
  },{
    type:'value', min:0, max:136, position:'bottom', z:1,
    axisLine:{show:false}, axisTick:{show:false}, splitLine:{show:false},
    axisLabel:{
      customValues:dateLabels.map(function(d,i){return 7+24*i;}),
      showMinLabel:true, showMaxLabel:true,
      fontSize:24.5, fontWeight:'bold', color:'#1a1a1a', margin:153, fontFamily:FONT,
      formatter:function(v){return dateLabels[Math.round((v-7)/24)]||'';}
    }
  }],
  yAxis:{
    type:'value', min:20, max:115, interval:5, z:1,
    axisLine:{show:true,lineStyle:{color:GRIDC,width:2}},
    axisTick:{show:true,length:5,lineStyle:{color:GRIDC,width:2}},
    splitLine:{show:true,lineStyle:{color:GRIDC,width:2}},
    axisLabel:{fontSize:20,color:'#333',margin:14,fontFamily:FONT},
    name:'Sound Pressure Level (dB)', nameLocation:'middle', nameGap:64,
    nameTextStyle:{fontSize:23.5,fontWeight:'bold',color:'#1a1a1a',fontFamily:FONT}
  },
  series:[
    {name:'Daytime (07:00-23:00)',type:'custom',z:0,silent:true,
     renderItem:bandRenderer('#f2f2f2',true),encode:{x:[0,1]},
     itemStyle:{color:'#d9d9d9'},
     data:dayStart.map(function(s,i){return [s,dayEnd[i]];})},
    {name:'Night-time (23:00-07:00)',type:'custom',z:0,silent:true,
     renderItem:bandRenderer('#ffffff',false),encode:{x:[0,1]},
     itemStyle:{color:'#ffffff'},
     data:nightStart.map(function(s,i){return [s,nightEnd[i]];})},
    {name:'LAeq,15min',type:'line',z:3,symbol:'none',showSymbol:false,
     lineStyle:{color:'#2ea9df',width:1.3},itemStyle:{color:'#2ea9df'},data:laeq},
    {name:'LAFmax',type:'scatter',z:2,symbol:'circle',symbolSize:7,
     itemStyle:{color:'#c8006e'},data:lafmax},
    {name:'LA90,15min',type:'line',z:3,symbol:'none',showSymbol:false,
     lineStyle:{color:'#a8c652',width:1.3},itemStyle:{color:'#a8c652'},data:la90},
    {name:'LA10,15mins',type:'line',z:4,symbol:'none',showSymbol:false,
     lineStyle:{color:'#8b77a9',width:1.3},itemStyle:{color:'#8b77a9'},data:la10}
  ]
});
</script></body></html>
